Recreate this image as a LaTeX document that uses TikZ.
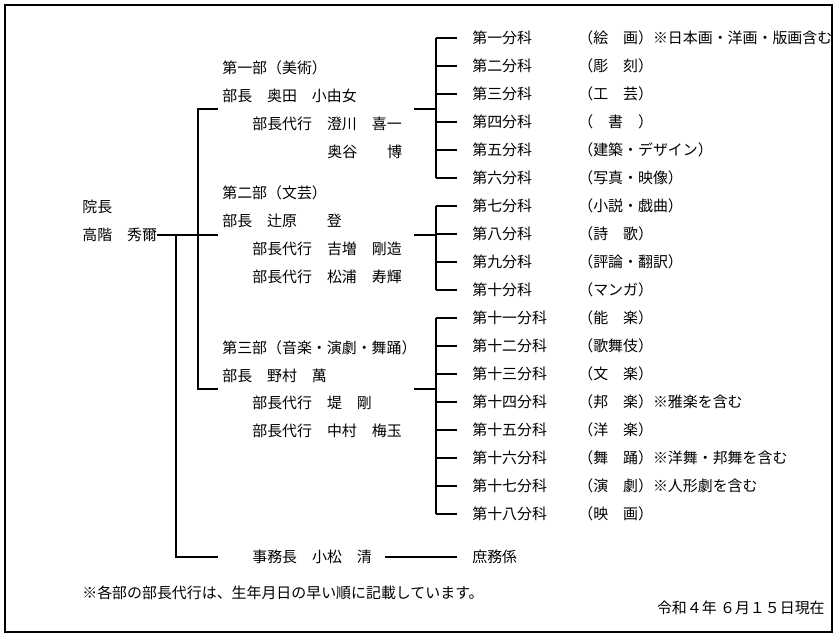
\documentclass[tikz,border=0pt]{standalone}
\usepackage{fontspec}
\setmainfont{Noto Sans CJK JP}
\usetikzlibrary{positioning}
\tikzset{
  txt/.style={anchor=west,inner sep=0pt,font=\fontsize{8.5}{10}\selectfont},
  ln/.style={line width=0.6pt}
}
\begin{document}
\begin{tikzpicture}[x=0.02cm,y=-0.02cm]
  \useasboundingbox (0,0) rectangle (837,636);
  %枠
  \draw[line width=0.8pt] (5,5) rectangle (832,632);
  %院長
  \node[txt] (chief) at (82,207) {院長};
  \node[txt] (chiefname) at (82,235) {高階　秀爾};
  %各部
  \node[txt] (dept1) at (222,68) {第一部（美術）};
  \node[txt] (head1) at (222,96) {部長　奥田　小由女};
  \node[txt] (dep1a) at (252,124) {部長代行　澄川　喜一};
  \node[txt] (dep1b) at (327,152) {奥谷　　博};
  \node[txt] (dept2) at (222,193) {第二部（文芸）};
  \node[txt] (head2) at (222,221) {部長　辻原　　登};
  \node[txt] (dep2a) at (252,249) {部長代行　吉増　剛造};
  \node[txt] (dep2b) at (252,277) {部長代行　松浦　寿輝};
  \node[txt] (dept3) at (222,348) {第三部（音楽・演劇・舞踊）};
  \node[txt] (head3) at (222,376) {部長　野村　萬};
  \node[txt] (dep3a) at (252,403) {部長代行　堤　剛};
  \node[txt] (dep3b) at (252,431) {部長代行　中村　梅玉};
  \node[txt] (office) at (252,557) {事務長　小松　清};
  \node[txt] (affairs) at (472,557) {庶務係};
  %分科
  \foreach \s/\f [count=\i] in {
    第一分科/（絵　画）※日本画・洋画・版画含む, 第二分科/（彫　刻）,
    第三分科/（工　芸）, 第四分科/（　書　）, 第五分科/（建築・デザイン）,
    第六分科/（写真・映像）, 第七分科/（小説・戯曲）, 第八分科/（詩　歌）,
    第九分科/（評論・翻訳）, 第十分科/（マンガ）, 第十一分科/（能　楽）,
    第十二分科/（歌舞伎）, 第十三分科/（文　楽）, 第十四分科/（邦　楽）※雅楽を含む,
    第十五分科/（洋　楽）, 第十六分科/（舞　踊）※洋舞・邦舞を含む,
    第十七分科/（演　劇）※人形劇を含む, 第十八分科/（映　画）}{
    \node[txt] (sec\i) at (472,10+28*\i) {\s};
    \node[txt] (field\i) at (578,10+28*\i) {\f};
    \draw[ln] (436,10+28*\i) -- (457,10+28*\i);
  }
  %線
  \draw[ln] (chiefname.east) -- (218,235);
  \draw[ln] (218,109) -- (198,109) -- (198,389) -- (218,389);
  \draw[ln] (176,235) -- (176,557) -- (218,557);
  \draw[ln] (385,557) -- (457,557);
  \draw[ln] (414,109) -- (436,109);
  \draw[ln] (414,235) -- (436,235);
  \draw[ln] (414,389) -- (436,389);
  \draw[ln] (436,38) -- (436,178);
  \draw[ln] (436,206) -- (436,290);
  \draw[ln] (436,318) -- (436,514);
  %注記
  \node[txt] (note) at (82,593) {※各部の部長代行は、生年月日の早い順に記載しています。};
  \node[txt,anchor=east] (date) at (825,608) {令和４年 ６月１５日現在};
\end{tikzpicture}
\end{document}
